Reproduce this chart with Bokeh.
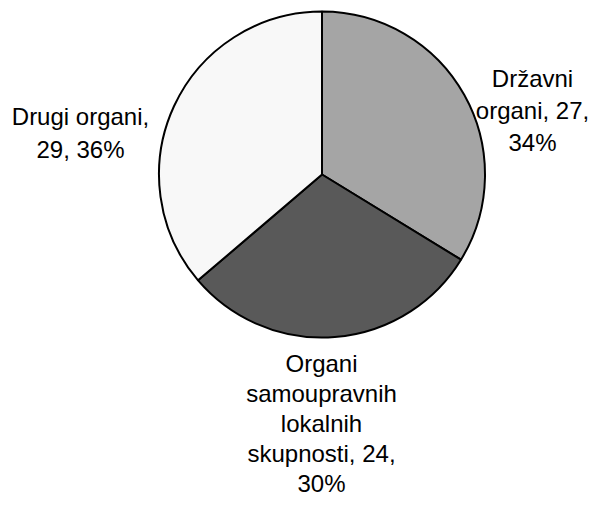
import math
from bokeh.plotting import figure
from bokeh.models import ColumnDataSource
from bokeh.core.properties import value
from bokeh.embed import file_html
from bokeh.resources import INLINE

# ---- data ----
categories = ["Državni organi", "Organi samoupravnih lokalnih skupnosti", "Drugi organi"]
counts = [27, 24, 29]
colors = ["#A5A5A5", "#595959", "#F8F8F8"]
# words per line of each label
line_groups = [[1, 2, 1], [1, 1, 1, 2, 1], [2, 2]]

# ---- layout (data units = pixels, y up from bottom) ----
W, H = 592, 499
cx, cy, R = 321.5, 325.0, 163.0
label_pos = [  # (center x, first baseline y, line step)
    (532.0, 421.0, 32.0),
    (321.0, 136.0, 30.0),
    (80.0, 383.0, 33.0),
]

total = sum(counts)
starts, ends = [], []
cum = 0
for c in counts:
    starts.append(math.pi / 2 - 2 * math.pi * cum / total)
    cum += c
    ends.append(math.pi / 2 - 2 * math.pi * cum / total)

src = ColumnDataSource(dict(x=[cx] * len(counts), y=[cy] * len(counts),
                            start=starts, end=ends, color=colors))

p = figure(width=W, height=H, x_range=(0, W), y_range=(0, H),
           output_backend="svg", toolbar_location=None, min_border=0,
           background_fill_color="white", border_fill_color="white")
p.axis.visible = False
p.grid.visible = False
p.outline_line_color = None

p.wedge(x="x", y="y", radius=R, start_angle="start", end_angle="end",
        direction="clock", fill_color="color", line_color="black",
        line_width=2, source=src)

tx, ty, tt = [], [], []
for cat, cnt, groups, (lx, ly, step) in zip(categories, counts, line_groups, label_pos):
    pct = round(100 * cnt / total)
    words = f"{cat}, {cnt}, {pct}%".split(" ")
    i = 0
    for k, g in enumerate(groups):
        tt.append(" ".join(words[i:i + g]))
        i += g
        tx.append(lx)
        ty.append(ly - k * step)

p.text(x=tx, y=ty, text=tt, text_align="center", text_baseline="alphabetic",
       text_font=value("Liberation Sans"), text_font_size="24px",
       text_color="black")

open("out.html", "w").write(file_html(p, INLINE))
